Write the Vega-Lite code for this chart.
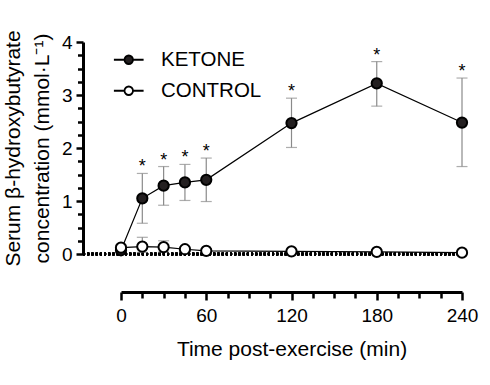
{
  "$schema": "https://vega.github.io/schema/vega-lite/v6.json",
  "autosize": {"type": "none"},
  "width": 341,
  "height": 212,
  "padding": {"left": 121, "top": 42, "right": 28, "bottom": 131},
  "background": "white",
  "config": {
    "view": {"stroke": null},
    "font": "Liberation Sans",
    "axis": {"labelFont": "Liberation Sans", "titleFont": "Liberation Sans", "labelColor": "black", "titleColor": "black", "domainColor": "black", "tickColor": "black", "grid": false, "titleFontWeight": "normal"}
  },
  "data": {
    "values": [
      {"time": 0, "series": "KETONE", "mean": 0.07, "lo": 0.04, "hi": 0.10, "star": ""},
      {"time": 15, "series": "KETONE", "mean": 1.05, "lo": 0.58, "hi": 1.52, "star": "*"},
      {"time": 30, "series": "KETONE", "mean": 1.29, "lo": 0.92, "hi": 1.65, "star": "*"},
      {"time": 45, "series": "KETONE", "mean": 1.35, "lo": 1.01, "hi": 1.69, "star": "*"},
      {"time": 60, "series": "KETONE", "mean": 1.40, "lo": 0.99, "hi": 1.81, "star": "*"},
      {"time": 120, "series": "KETONE", "mean": 2.47, "lo": 2.01, "hi": 2.94, "star": "*"},
      {"time": 180, "series": "KETONE", "mean": 3.22, "lo": 2.79, "hi": 3.63, "star": "*"},
      {"time": 240, "series": "KETONE", "mean": 2.48, "lo": 1.65, "hi": 3.32, "star": "*"},
      {"time": 0, "series": "CONTROL", "mean": 0.12, "lo": 0.07, "hi": 0.17, "star": ""},
      {"time": 15, "series": "CONTROL", "mean": 0.14, "lo": 0.03, "hi": 0.315, "star": ""},
      {"time": 30, "series": "CONTROL", "mean": 0.13, "lo": 0.04, "hi": 0.25, "star": ""},
      {"time": 45, "series": "CONTROL", "mean": 0.09, "lo": 0.05, "hi": 0.13, "star": ""},
      {"time": 60, "series": "CONTROL", "mean": 0.06, "lo": 0.03, "hi": 0.09, "star": ""},
      {"time": 120, "series": "CONTROL", "mean": 0.05, "lo": 0.03, "hi": 0.07, "star": ""},
      {"time": 180, "series": "CONTROL", "mean": 0.04, "lo": 0.02, "hi": 0.06, "star": ""},
      {"time": 240, "series": "CONTROL", "mean": 0.025, "lo": 0.01, "hi": 0.04, "star": ""}
    ]
  },
  "encoding": {
    "x": {
      "field": "time", "type": "quantitative",
      "scale": {"domain": [0, 240], "nice": false},
      "axis": {
        "title": "Time post-exercise (min)",
        "titleFontSize": 21,
        "titlePadding": 13,
        "values": [0, 15, 30, 45, 60, 75, 90, 105, 120, 135, 150, 165, 180, 195, 210, 225, 240],
        "tickCount": 100,
        "labelExpr": "datum.value % 60 === 0 ? datum.label : ''",
        "labelFontSize": 19,
        "labelPadding": 6,
        "labelFlush": false,
        "labelOverlap": false,
        "offset": 38,
        "domainWidth": 3,
        "tickWidth": 2.5,
        "tickSize": 8,
        "tickDash": {"condition": {"test": "datum.value % 60 !== 0", "value": [6, 30]}, "value": [8, 0]}
      }
    },
    "y": {
      "field": "mean", "type": "quantitative",
      "scale": {"domain": [0, 4], "nice": false},
      "axis": {
        "title": ["Serum β-hydroxybutyrate", "concentration (mmol·L⁻¹)"],
        "titleFontSize": 21,
        "titleLineHeight": 29,
        "titlePadding": 9,
        "values": [0, 0.25, 0.5, 0.75, 1, 1.25, 1.5, 1.75, 2, 2.25, 2.5, 2.75, 3, 3.25, 3.5, 3.75, 4],
        "tickCount": 100,
        "labelExpr": "datum.value % 1 === 0 ? format(datum.value, 'd') : ''",
        "labelFontSize": 19,
        "labelPadding": 4,
        "labelFlush": false,
        "labelOverlap": false,
        "offset": 38,
        "domainWidth": 3,
        "tickWidth": 2.5,
        "tickSize": 7,
        "tickDash": {"condition": {"test": "datum.value % 1 !== 0", "value": [5.5, 30]}, "value": [7, 0]}
      }
    }
  },
  "layer": [
    {
      "mark": {"type": "rule", "strokeDash": [2, 2.2], "strokeWidth": 2.5, "color": "black"},
      "encoding": {
        "x": {"datum": -26.7, "type": "quantitative"},
        "x2": {"datum": 242.5},
        "y": {"datum": 0, "type": "quantitative"}
      }
    },
    {
      "mark": {"type": "errorbar", "ticks": {"size": 11, "thickness": 1.2, "color": "#8a8a8a"}, "rule": {"strokeWidth": 1.2, "color": "#8a8a8a"}},
      "encoding": {
        "y": {"field": "lo", "type": "quantitative"},
        "y2": {"field": "hi"},
        "detail": {"field": "series"}
      }
    },
    {
      "mark": {"type": "line", "strokeWidth": 1.2, "color": "black"},
      "encoding": {
        "detail": {"field": "series"}
      }
    },
    {
      "mark": {"type": "point", "shape": "circle", "filled": true, "size": 105, "stroke": "black", "strokeWidth": 2, "opacity": 1},
      "encoding": {
        "fill": {
          "field": "series", "type": "nominal",
          "scale": {"domain": ["KETONE", "CONTROL"], "range": ["#231f20", "#ffffff"]},
          "legend": {
            "title": null,
            "orient": "none",
            "legendX": -2.5,
            "legendY": 7.5,
            "padding": 0,
            "symbolType": "M-3.5,0H-1M1,0H3.5M-1,0A1,1,0,1,1,1,0A1,1,0,1,1,-1,0Z",
            "symbolSize": 72,
            "symbolStrokeColor": "black",
            "symbolStrokeWidth": 1.8,
            "symbolOpacity": 1,
            "labelFont": "Liberation Sans",
            "labelFontSize": 20.5,
            "labelColor": "black",
            "labelOffset": 22,
            "rowPadding": 10
          }
        }
      }
    },
    {
      "transform": [{"filter": "datum.star === '*'"}],
      "mark": {"type": "text", "font": "Liberation Sans", "fontSize": 18, "color": "black", "baseline": "middle", "dy": -6},
      "encoding": {
        "y": {"field": "hi", "type": "quantitative"},
        "text": {"field": "star"}
      }
    }
  ]
}
